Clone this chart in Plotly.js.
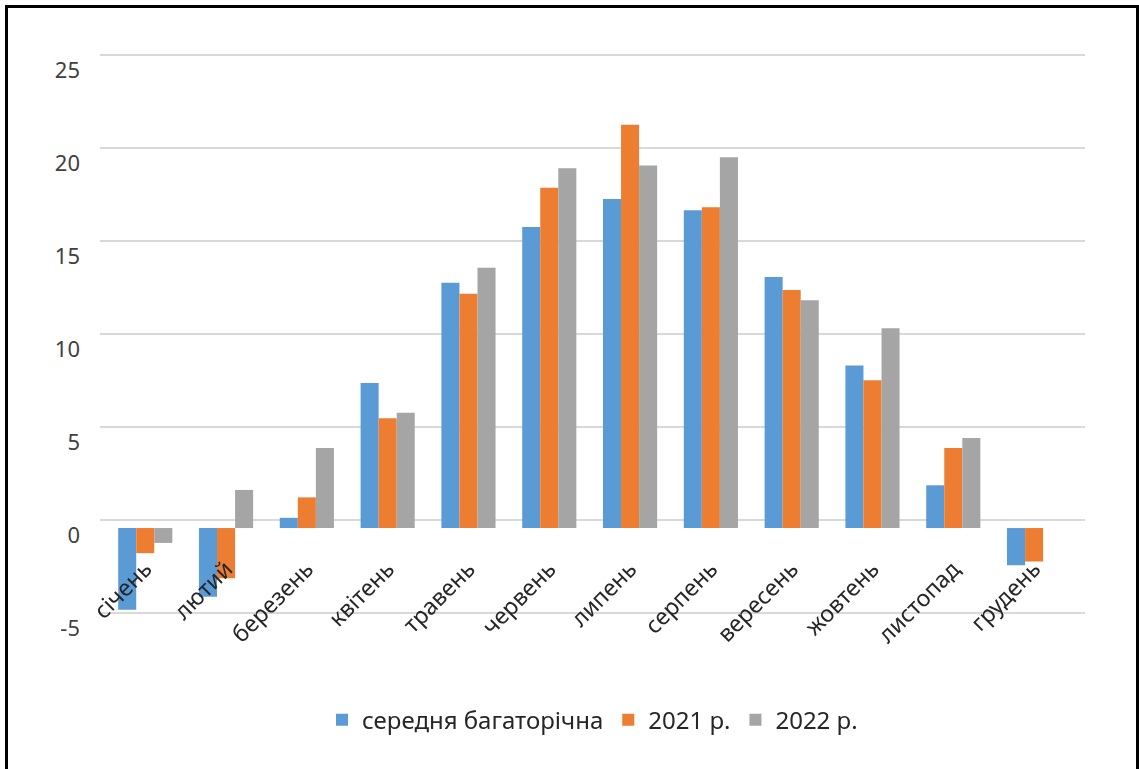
<!DOCTYPE html>
<html>
<head>
<meta charset="utf-8">
<script src="https://cdn.plot.ly/plotly-3.0.1.min.js"></script>
<style>
  html, body { margin: 0; padding: 0; background: #fff; }
  #frame { position: absolute; left: 5px; top: 5px; width: 1128px; height: 780px;
           border-left: 3px solid #000; border-top: 3px solid #000; border-right: 3px solid #000; pointer-events: none; z-index: 10; }
  #chart { position: absolute; left: 0; top: 0; width: 1139px; height: 769px; }
</style>
</head>
<body>
<div id="chart"></div>
<div id="frame"></div>
<script>
const months = ["січень","лютий","березень","квітень","травень","червень","липень","серпень","вересень","жовтень","листопад","грудень"];
const seriesNames = ["середня багаторічна","2021 р.","2022 р."];
const avgValues  = [-4.4, -3.7, 0.55, 7.8, 13.2, 16.2, 17.7, 17.1, 13.5, 8.75, 2.3, -2.0];
const y2021      = [-1.35, -2.7, 1.65, 5.9, 12.6, 18.3, 21.7, 17.25, 12.8, 7.95, 4.3, -1.8];
const y2022      = [-0.8, 2.05, 4.3, 6.2, 14.0, 19.35, 19.5, 19.95, 12.25, 10.75, 4.85, null];
const yTicks     = [-5, 0, 5, 10, 15, 20, 25];
const colors     = ["#5B9BD5", "#ED7D31", "#A5A5A5"];

const seriesValues = [avgValues, y2021, y2022];
const traces = seriesValues.map((vals, i) => ({
  type: "bar",
  name: seriesNames[i],
  x: months,
  y: vals,
  marker: { color: colors[i] },
  xaxis: "x",
  yaxis: "y",
  hoverinfo: "x+y+name"
}));
// invisible helper trace so the back-wall gridline axis (y2) is drawn
traces.unshift({
  type: "scatter",
  mode: "markers",
  x: months,
  y: avgValues,
  xaxis: "x",
  yaxis: "y2",
  opacity: 0,
  showlegend: false,
  hoverinfo: "skip"
});

const fontFam = "'Noto Sans', 'Open Sans', sans-serif";

const layout = {
  width: 1139,
  height: 769,
  margin: { l: 100, r: 54, t: 54, b: 148 },
  paper_bgcolor: "#ffffff",
  plot_bgcolor: "rgba(0,0,0,0)",
  barmode: "group",
  bargap: 0.33,
  bargroupgap: 0,
  showlegend: true,
  legend: {
    orientation: "h",
    x: 0.5, xanchor: "center",
    y: -0.175, yanchor: "middle",
    font: { family: fontFam, size: 24, color: "#262626" },
    itemclick: false,
    traceorder: "normal"
  },
  xaxis: {
    type: "category",
    categoryarray: months,
    range: [-0.56, 11.63],
    anchor: "free",
    position: 0.125,
    showline: false,
    showgrid: false,
    ticks: "",
    tickangle: -45,
    tickfont: { family: fontFam, size: 23, color: "#262626" }
  },
  yaxis: {
    range: [-5, 25.5],
    tickvals: yTicks,
    ticktext: yTicks.map(String),
    showgrid: false,
    zeroline: false,
    showline: false,
    ticks: "",
    ticklabelstandoff: 19,
    ticklabelshift: 7,
    tickfont: { family: fontFam, size: 22, color: "#404040" }
  },
  yaxis2: {
    overlaying: "y",
    range: [-5.43, 25.07],
    tickvals: yTicks,
    showticklabels: false,
    showgrid: true,
    gridcolor: "#d9d9d9",
    gridwidth: 2,
    zeroline: false,
    showline: false,
    ticks: ""
  }
};

Plotly.newPlot("chart", traces, layout, { displayModeBar: false, staticPlot: true });
</script>
</body>
</html>
